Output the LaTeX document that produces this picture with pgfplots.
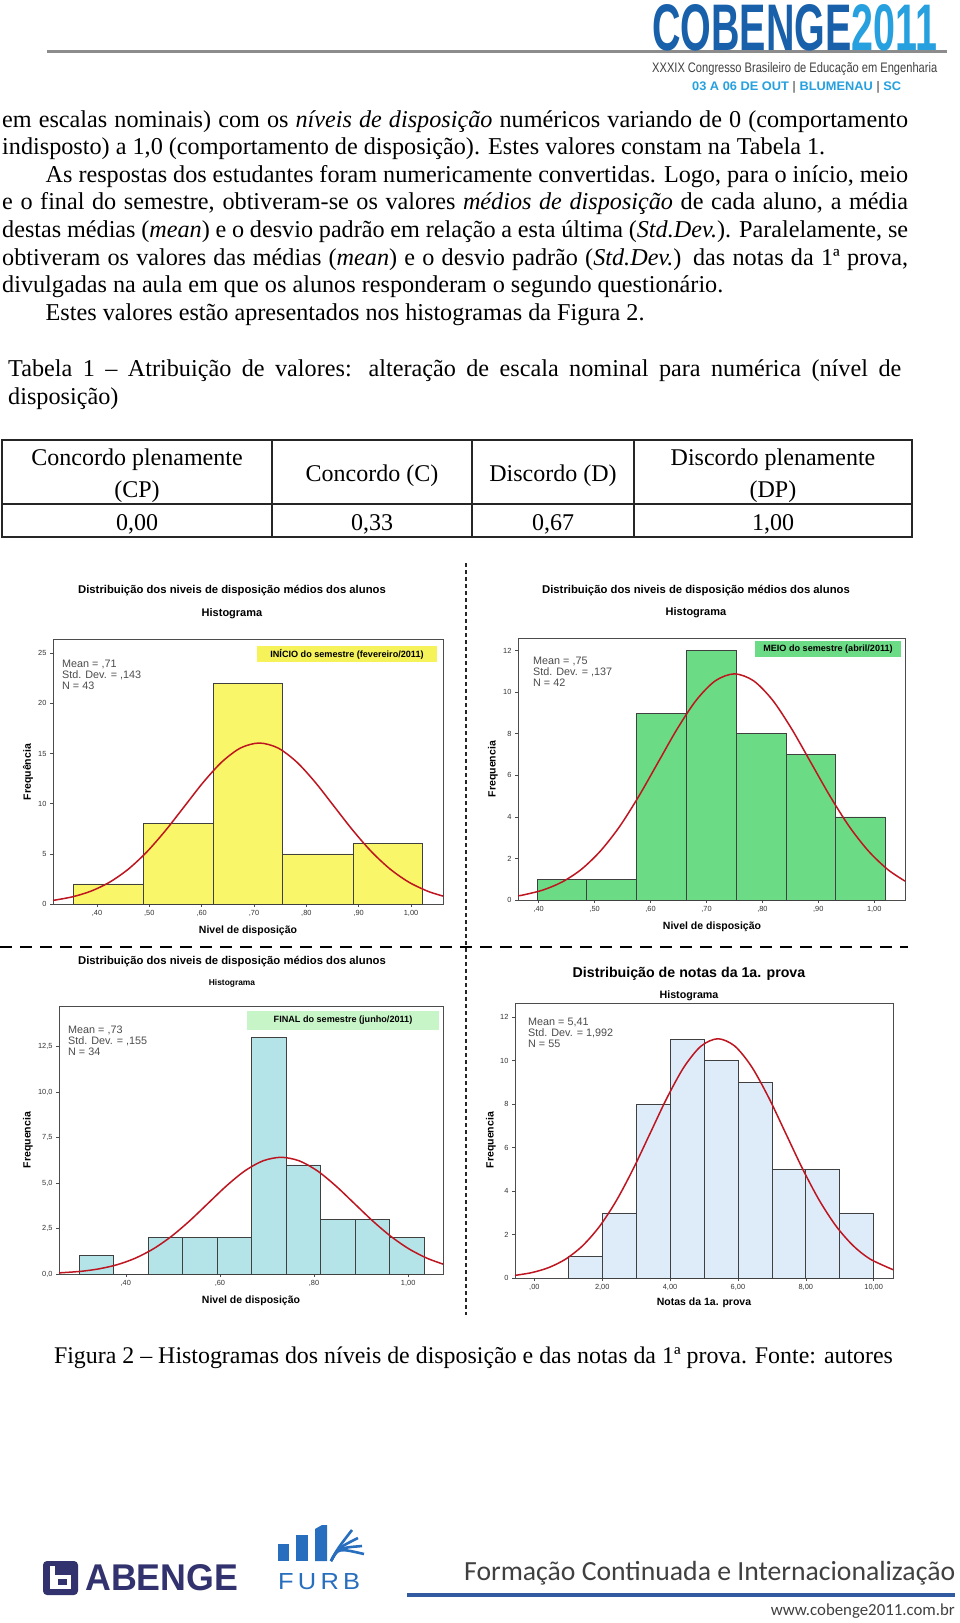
\documentclass[border=0pt]{standalone}
\usepackage{fontspec}
\setmainfont{Liberation Serif}
\newfontfamily\arial{Liberation Sans}
\newfontfamily\carlito{Carlito}
\usepackage{graphicx}
\usepackage{pgfplots}
\pgfplotsset{compat=1.18}

\definecolor{yel}{RGB}{250,246,105}
\definecolor{grn}{RGB}{108,219,133}
\definecolor{cya}{RGB}{180,228,232}
\definecolor{lbl}{RGB}{222,236,250}
\definecolor{labyel}{RGB}{245,242,90}
\definecolor{lablgr}{RGB}{200,245,200}
\definecolor{curve}{RGB}{190,22,32}
\definecolor{cobdark}{RGB}{24,96,170}
\definecolor{coblight}{RGB}{38,160,222}
\definecolor{abenge}{RGB}{50,50,110}
\definecolor{furb}{RGB}{40,110,190}
\definecolor{footline}{RGB}{50,90,160}

\newcommand\fs[2]{\fontsize{#1}{#2}\selectfont}
% one justified / natural line of body text
\newcommand\jline[4]{\node[anchor=base west,inner sep=0] at (#1,-#2) {\fs{24.2}{27.5}\makebox[#3pt][s]{#4}};}
\newcommand\nline[3]{\node[anchor=base west,inner sep=0] at (#1,-#2) {\fs{24.2}{27.5}#3};}
% SPSS stats box
\newcommand\stats[5]{%
  \node[anchor=base west,inner sep=0] at (#1,-#2) {\arial\fs{10.8}{11}\color{black!70}Mean = #3};
  \node[anchor=base west,inner sep=0] at (#1,-#2-11.3) {\arial\fs{10.8}{11}\color{black!70}Std. Dev. = #4};
  \node[anchor=base west,inner sep=0] at (#1,-#2-22.6) {\arial\fs{10.8}{11}\color{black!70}N = #5};}

\pgfplotsset{
  spss/.style={
    scale only axis, anchor=south west, ymin=0,
    axis line style={draw=black!70, line width=0.9pt},
    tick align=outside, tick pos=left,
    major tick length=3pt,
    tick style={draw=black!70, line width=0.6pt},
    /pgf/number format/assume math mode=true,
    ticklabel style={font=\arial\fs{7.4}{8}, text=black!80},
  },
  bars/.style={ybar interval, draw=black!75, line width=0.7pt, fill=#1},
  normal/.style={smooth, no marks, line width=1.5pt, color=curve},
}

\begin{document}
\begin{tikzpicture}[x=1pt,y=1pt]
\fill[white] (0,0) rectangle (960,-1623);
\path[use as bounding box] (0,0) rectangle (960,-1623);

% ---------- header ----------
\draw[line width=3pt, black!45] (47,-51) -- (947,-51);
\node[anchor=base west,inner sep=0] at (652,-50) {\resizebox{285pt}{46pt}{\arial\bfseries\color{cobdark}COBENGE\color{coblight}2011}};
\node[anchor=base west,inner sep=0] at (652,-72) {\resizebox{285pt}{10pt}{\arial\color{black!75}XXXIX Congresso Brasileiro de Educação em Engenharia}};
\node[anchor=base west,inner sep=0] at (692,-90.5) {\resizebox{209pt}{9pt}{\arial\bfseries\color{coblight}03 A 06 DE OUT {\color{black!50}|} BLUMENAU {\color{black!50}|} SC}};

% ---------- body text ----------
\jline{2}{127}{906}{em escalas nominais) com os \textit{níveis de disposição} numéricos variando de 0 (comportamento}
\nline{2}{154.6}{indisposto) a 1,0 (comportamento de disposição). Estes valores constam na Tabela 1.}
\jline{45.5}{182.2}{862.5}{As respostas dos estudantes foram numericamente convertidas. Logo, para o início, meio}
\jline{2}{209.8}{906}{e o final do semestre, obtiveram-se os valores \textit{médios de disposição} de cada aluno, a média}
\jline{2}{237.4}{906}{destas médias (\textit{mean}) e o desvio padrão em relação a esta última (\textit{Std.Dev.}). Paralelamente, se}
\jline{2}{265}{906}{obtiveram os valores das médias (\textit{mean}) e o desvio padrão (\textit{Std.Dev.}) das notas da 1ª prova,}
\nline{2}{292.6}{divulgadas na aula em que os alunos responderam o segundo questionário.}
\nline{45.5}{320.2}{Estes valores estão apresentados nos histogramas da Figura 2.}

% ---------- table 1 ----------
\jline{8}{376}{893}{Tabela 1 – Atribuição de valores: alteração de escala nominal para numérica (nível de}
\nline{8}{404}{disposição)}
\draw[line width=1.3pt, black!85] (2,-440) rectangle (912,-537);
\draw[line width=1.1pt, black!85] (2,-504) -- (912,-504);
\foreach \cx in {272,472,634} \draw[line width=1.1pt, black!85] (\cx,-440) -- (\cx,-537);
\node[anchor=base,inner sep=0] at (137,-465) {\fs{24}{27}Concordo plenamente};
\node[anchor=base,inner sep=0] at (137,-497) {\fs{24}{27}(CP)};
\node[anchor=base,inner sep=0] at (372,-481) {\fs{24}{27}Concordo (C)};
\node[anchor=base,inner sep=0] at (553,-481) {\fs{24}{27}Discordo (D)};
\node[anchor=base,inner sep=0] at (773,-465) {\fs{24}{27}Discordo plenamente};
\node[anchor=base,inner sep=0] at (773,-497) {\fs{24}{27}(DP)};
\node[anchor=base,inner sep=0] at (137,-530) {\fs{24}{27}0,00};
\node[anchor=base,inner sep=0] at (372,-530) {\fs{24}{27}0,33};
\node[anchor=base,inner sep=0] at (553,-530) {\fs{24}{27}0,67};
\node[anchor=base,inner sep=0] at (773,-530) {\fs{24}{27}1,00};

% ---------- separators ----------
\draw[line width=1.5pt, black!85, dash pattern=on 4pt off 3pt] (466,-563) -- (466,-1315);
\draw[line width=2pt, black, dash pattern=on 12pt off 8pt] (0,-947) -- (908,-947);

% ---------- panel 1 : INICIO ----------
\begin{axis}[spss, at={(53pt,-904pt)}, width=390pt, height=265pt,
  xmin=0.316, xmax=1.061, ymax=26.42,
  xtick={0.4,0.5,0.6,0.7,0.8,0.9,1.0},
  xticklabels={{,40},{,50},{,60},{,70},{,80},{,90},{1,00}},
  ytick={0,5,10,15,20,25}]
\addplot[bars=yel] coordinates {(0.355,2) (0.488,8) (0.622,22) (0.755,5) (0.889,6) (1.022,0)};
\addplot[normal] coordinates {(0.316,0.36) (0.3525,0.71) (0.38825,1.277) (0.424,2.17) (0.45975,3.471)
  (0.4955,5.21) (0.53125,7.348) (0.567,9.73) (0.60275,12.115) (0.6385,14.16) (0.67425,15.556)
  (0.71,16.05) (0.74575,15.556) (0.7815,14.16) (0.81725,12.115) (0.853,9.73) (0.88875,7.348)
  (0.9245,5.21) (0.96025,3.471) (0.996,2.17) (1.03175,1.277) (1.061,0.79)};
\end{axis}
\node at (232,-591) {\arial\bfseries\fs{11.3}{12}Distribuição dos niveis de disposição médios dos alunos};
\node at (232,-614) {\arial\bfseries\fs{11}{12}Histograma};
\fill[labyel] (257,-646) rectangle (437,-662);
\node at (347,-654) {\arial\bfseries\fs{9.1}{10}INÍCIO do semestre (fevereiro/2011)};
\stats{62}{667}{,71}{,143}{43}
\node[rotate=90] at (28,-772) {\arial\bfseries\fs{10.5}{11}Frequência};
\node at (248,-931) {\arial\bfseries\fs{10.5}{11}Nivel de disposição};

% ---------- panel 2 : MEIO ----------
\begin{axis}[spss, at={(518pt,-900pt)}, width=387pt, height=262pt,
  xmin=0.363, xmax=1.055, ymax=12.61,
  xtick={0.4,0.5,0.6,0.7,0.8,0.9,1.0},
  xticklabels={{,40},{,50},{,60},{,70},{,80},{,90},{1,00}},
  ytick={0,2,4,6,8,10,12}]
\addplot[bars=grn] coordinates {(0.397,1) (0.486,1) (0.575,9) (0.664,12) (0.754,8) (0.843,7) (0.931,4) (1.020,0)};
\addplot[normal] coordinates {(0.363,0.20) (0.37325,0.248) (0.4075,0.48) (0.44175,0.866) (0.476,1.47)
  (0.51025,2.354) (0.5445,3.53) (0.57875,4.983) (0.613,6.60) (0.64725,8.217) (0.6815,9.61)
  (0.71575,10.550) (0.75,10.885) (0.78425,10.550) (0.8185,9.61) (0.85275,8.217) (0.887,6.60)
  (0.92125,4.983) (0.9555,3.53) (0.98975,2.354) (1.024,1.47) (1.055,0.91)};
\end{axis}
\node at (696,-591) {\arial\bfseries\fs{11.3}{12}Distribuição dos niveis de disposição médios dos alunos};
\node at (696,-613) {\arial\bfseries\fs{11}{12}Histograma};
\fill[grn] (755,-641) rectangle (901,-657);
\node at (828,-649) {\arial\bfseries\fs{9.1}{10}MEIO do semestre (abril/2011)};
\stats{533}{664}{,75}{,137}{42}
\node[rotate=90] at (493,-769) {\arial\bfseries\fs{10.5}{11}Frequencia};
\node at (712,-927) {\arial\bfseries\fs{10.5}{11}Nivel de disposição};

% ---------- panel 3 : FINAL ----------
\begin{axis}[spss, at={(59pt,-1274pt)}, width=384pt, height=268pt,
  xmin=0.258, xmax=1.074, ymax=14.73,
  xtick={0.4,0.6,0.8,1.0},
  xticklabels={{,40},{,60},{,80},{1,00}},
  ytick={0,2.5,5,7.5,10,12.5},
  yticklabels={{0,0},{2,5},{5,0},{7,5},{10,0},{12,5}}]
\addplot[bars=cya] coordinates {(0.3007,1) (0.374,0) (0.4473,2) (0.5206,2) (0.5939,2) (0.6672,13)
  (0.7405,6) (0.8138,3) (0.8871,3) (0.9604,2) (1.0337,0)};
\addplot[normal] coordinates {(0.258,0.062) (0.30375,0.146) (0.3425,0.282) (0.38125,0.510) (0.42,0.868)
  (0.45875,1.387) (0.4975,2.083) (0.53625,2.937) (0.575,3.891) (0.61375,4.842) (0.6525,5.661)
  (0.69125,6.218) (0.73,6.415) (0.76875,6.218) (0.8075,5.661) (0.84625,4.842) (0.885,3.891)
  (0.92375,2.937) (0.9625,2.083) (1.00125,1.387) (1.04,0.868) (1.074,0.547)};
\end{axis}
\node at (232,-962) {\arial\bfseries\fs{11.3}{12}Distribuição dos niveis de disposição médios dos alunos};
\node at (232,-983) {\arial\bfseries\fs{8.4}{9}Histograma};
\fill[lablgr] (247,-1011) rectangle (439,-1030);
\node at (343,-1020.5) {\arial\bfseries\fs{9.1}{10}FINAL do semestre (junho/2011)};
\stats{68}{1033}{,73}{,155}{34}
\node[rotate=90] at (28,-1140) {\arial\bfseries\fs{10.5}{11}Frequencia};
\node at (251,-1301) {\arial\bfseries\fs{10.5}{11}Nivel de disposição};

% ---------- panel 4 : notas ----------
\begin{axis}[spss, at={(515pt,-1278pt)}, width=378pt, height=275pt,
  xmin=-0.57, xmax=10.57, ymax=12.66,
  xtick={0,2,4,6,8,10},
  xticklabels={{,00},{2,00},{4,00},{6,00},{8,00},{10,00}},
  ytick={0,2,4,6,8,10,12}]
\addplot[bars=lbl] coordinates {(1,1) (2,3) (3,8) (4,11) (5,10) (6,9) (7,5) (8,5) (9,3) (10,0)};
\addplot[normal] coordinates {(-0.57,0.122) (-0.068,0.251) (0.43,0.484) (0.928,0.876) (1.426,1.491)
  (1.924,2.382) (2.422,3.576) (2.92,5.043) (3.418,6.681) (3.916,8.315) (4.414,9.721)
  (4.912,10.676) (5.41,11.015) (5.908,10.676) (6.406,9.721) (6.904,8.315) (7.402,6.681)
  (7.90,5.043) (8.398,3.576) (8.896,2.382) (9.394,1.491) (9.892,0.876) (10.57,0.385)};
\end{axis}
\node at (689,-974) {\arial\bfseries\fs{14.2}{15}Distribuição de notas da 1a. prova};
\node at (689,-996) {\arial\bfseries\fs{10.7}{12}Histograma};
\stats{528}{1025}{5,41}{1,992}{55}
\node[rotate=90] at (491,-1140) {\arial\bfseries\fs{10.5}{11}Frequencia};
\node at (704,-1303) {\arial\bfseries\fs{10.5}{11}Notas da 1a. prova};

% ---------- figure caption ----------
\node[anchor=base,inner sep=0] at (473.5,-1363) {\fs{23.9}{27.5}Figura 2 – Histogramas dos níveis de disposição e das notas da 1ª prova. Fonte: autores};

% ---------- footer ----------
\fill[abenge, rounded corners=4pt] (43,-1561) rectangle (78,-1595);
\fill[white] (50,-1566) rectangle (55,-1589);
\fill[white] (55,-1575) rectangle (71,-1589);
\fill[abenge] (58,-1579) rectangle (67,-1585);
\node[anchor=base west,inner sep=0] at (85,-1590) {\resizebox{153pt}{26pt}{\arial\bfseries\color{abenge}ABENGE}};
\fill[furb] (278,-1544) rectangle (289,-1561);
\fill[furb] (296,-1535) rectangle (308,-1561);
\fill[furb] (315,-1529) -- (322,-1525) -- (327,-1525) -- (327,-1561) -- (315,-1561) -- cycle;
\foreach \ey/\ex in {1530/352,1538/358,1546/362,1554/364} \draw[furb, line width=2.6pt] (331,-1561) .. controls (338,-1548) .. (\ex,-\ey);
\node[anchor=base west,inner sep=0] at (278,-1589) {\resizebox{82pt}{16pt}{\arial\color{furb}F\,U\,R\,B}};
\node[anchor=base west,inner sep=0] at (464,-1580) {\resizebox{491pt}{!}{\carlito\color{black!75}Formação Continuada e Internacionalização}};
\draw[footline, line width=3.5pt] (407,-1595) -- (955,-1595);
\node[anchor=base east,inner sep=0] at (955,-1615) {\resizebox{184pt}{!}{\carlito\color{black!75}www.cobenge2011.com.br}};
\end{tikzpicture}
\end{document}
